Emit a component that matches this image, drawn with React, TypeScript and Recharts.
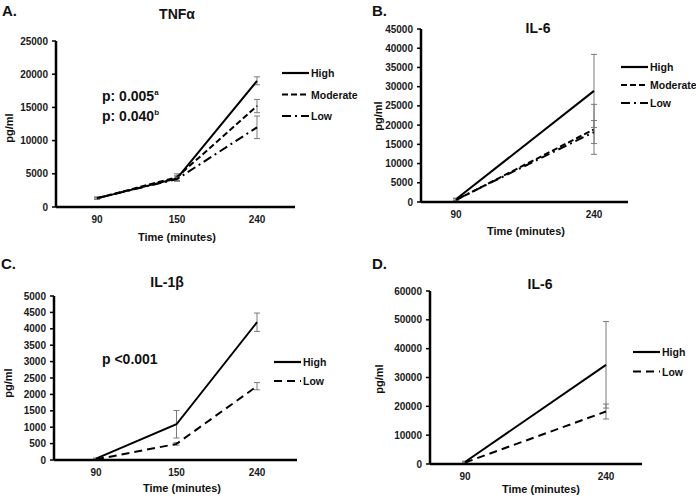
import { LineChart, Line, XAxis, YAxis, ErrorBar } from "recharts";

const FONT = '"Liberation Sans", Arial, Helvetica, sans-serif';

// A. TNFα
const timesA = ["90", "150", "240"];
const tnfHigh = [1300, 4300, 19000];
const tnfHighErr = [150, 400, 600];
const tnfModerate = [1300, 4500, 15200];
const tnfModerateErr = [150, 500, 1000];
const tnfLow = [1350, 4200, 12000];
const tnfLowErr = [150, 300, 1700];
const ticksA = [0, 5000, 10000, 15000, 20000, 25000];

// B. IL-6
const timesB = ["90", "240"];
const il6High = [700, 28900];
const il6HighErr = [300, 9500];
const il6Moderate = [500, 18900];
const il6ModerateErr = [300, 6500];
const il6Low = [600, 18200];
const il6LowErr = [300, 3000];
const ticksB = [0, 5000, 10000, 15000, 20000, 25000, 30000, 35000, 40000, 45000];

// C. IL-1β
const timesC = ["90", "150", "240"];
const il1High = [40, 1090, 4200];
const il1HighErr = [20, 420, 280];
const il1Low = [20, 490, 2250];
const il1LowErr = [10, 40, 110];
const ticksC = [0, 500, 1000, 1500, 2000, 2500, 3000, 3500, 4000, 4500, 5000];

// D. IL-6
const timesD = ["90", "240"];
const il6dHigh = [700, 34400];
const il6dHighErr = [300, 15000];
const il6dLow = [500, 18200];
const il6dLowErr = [300, 2600];
const ticksD = [0, 10000, 20000, 30000, 40000, 50000, 60000];

type Series = { key: string; name: string; dash?: string; values: number[]; errors: number[] };

const DASH_MOD = "6 3";
const DASH_LOWDOT = "9 4 2 4";
const DASH_LONG = "8 5";

const seriesA: Series[] = [
  { key: "high", name: "High", values: tnfHigh, errors: tnfHighErr },
  { key: "moderate", name: "Moderate", dash: DASH_MOD, values: tnfModerate, errors: tnfModerateErr },
  { key: "low", name: "Low", dash: DASH_LOWDOT, values: tnfLow, errors: tnfLowErr },
];
const seriesB: Series[] = [
  { key: "high", name: "High", values: il6High, errors: il6HighErr },
  { key: "moderate", name: "Moderate", dash: DASH_MOD, values: il6Moderate, errors: il6ModerateErr },
  { key: "low", name: "Low", dash: DASH_LOWDOT, values: il6Low, errors: il6LowErr },
];
const seriesC: Series[] = [
  { key: "high", name: "High", values: il1High, errors: il1HighErr },
  { key: "low", name: "Low", dash: DASH_LONG, values: il1Low, errors: il1LowErr },
];
const seriesD: Series[] = [
  { key: "high", name: "High", values: il6dHigh, errors: il6dHighErr },
  { key: "low", name: "Low", dash: DASH_LONG, values: il6dLow, errors: il6dLowErr },
];

function buildRows(times: string[], series: Series[]) {
  return times.map((t, i) => {
    const row: Record<string, string | number> = { time: t };
    series.forEach((s) => {
      row[s.key] = s.values[i];
      row[s.key + "Err"] = s.errors[i];
    });
    return row;
  });
}

const tickStyle = { fill: "#1a1a1a", fontSize: 10, fontWeight: 700, fontFamily: FONT };

type PanelProps = {
  left: number;
  top: number;
  times: string[];
  series: Series[];
  ticks: number[];
  margin: { top: number; right: number; bottom: number; left: number };
  yWidth: number;
  pad: { left: number; right: number };
};

function Panel({ left, top, times, series, ticks, margin, yWidth, pad }: PanelProps) {
  const rows = buildRows(times, series);
  return (
    <div style={{ position: "absolute", left, top }}>
      <LineChart width={348} height={249} data={rows} margin={margin}>
        <XAxis
          dataKey="time"
          type="category"
          padding={pad}
          height={30}
          tickLine={false}
          tickSize={0}
          tickMargin={9}
          axisLine={{ stroke: "#000", strokeWidth: 2.5 }}
          tick={tickStyle}
        />
        <YAxis
          width={yWidth}
          domain={[ticks[0], ticks[ticks.length - 1]]}
          ticks={ticks}
          interval={0}
          allowDataOverflow
          tickSize={4}
          tickMargin={4}
          axisLine={{ stroke: "#000", strokeWidth: 2.5 }}
          tickLine={{ stroke: "#000", strokeWidth: 1.5 }}
          tick={tickStyle}
        />
        {series.map((s) => (
          <Line
            key={s.key}
            type="linear"
            dataKey={s.key}
            name={s.name}
            stroke="#000"
            strokeWidth={2}
            strokeDasharray={s.dash}
            dot={false}
            activeDot={false}
            isAnimationActive={false}
          >
            <ErrorBar
              dataKey={s.key + "Err"}
              direction="y"
              width={3}
              stroke="#7a7a7a"
              strokeWidth={1}
              isAnimationActive={false}
            />
          </Line>
        ))}
      </LineChart>
    </div>
  );
}

function LegendBlock({ x, y, gap, series }: { x: number; y: number; gap: number; series: Series[] }) {
  return (
    <g>
      {series.map((s, i) => (
        <g key={s.key}>
          <line
            x1={x}
            x2={x + 27}
            y1={y + i * gap}
            y2={y + i * gap}
            stroke="#000"
            strokeWidth={2.2}
            strokeDasharray={s.dash}
          />
          <text x={x + 29} y={y + i * gap + 4} fontSize={10.5} fontWeight={700} fontFamily={FONT} fill="#111">
            {s.name}
          </text>
        </g>
      ))}
    </g>
  );
}

function Txt({ x, y, size, children, anchor = "start", rotate = false }: any) {
  return (
    <text
      x={x}
      y={y}
      fontSize={size}
      fontWeight={700}
      fontFamily={FONT}
      fill="#111"
      textAnchor={anchor}
      dominantBaseline={rotate ? "central" : undefined}
      transform={rotate ? `rotate(-90, ${x}, ${y})` : undefined}
    >
      {children}
    </text>
  );
}

export default function App() {
  return (
    <div
      style={{
        position: "absolute",
        left: 0,
        top: 0,
        width: 696,
        height: 498,
        background: "#fff",
        overflow: "hidden",
      }}
    >
      <Panel
        left={0}
        top={0}
        times={timesA}
        series={seriesA}
        ticks={ticksA}
        margin={{ top: 41, right: 53, bottom: 12, left: 0 }}
        yWidth={56}
        pad={{ left: 41, right: 38 }}
      />
      <Panel
        left={348}
        top={0}
        times={timesB}
        series={seriesB}
        ticks={ticksB}
        margin={{ top: 29, right: 68, bottom: 17, left: 0 }}
        yWidth={73}
        pad={{ left: 35, right: 34 }}
      />
      <Panel
        left={0}
        top={249}
        times={timesC}
        series={seriesC}
        ticks={ticksC}
        margin={{ top: 47, right: 51, bottom: 8, left: 0 }}
        yWidth={54}
        pad={{ left: 42, right: 40 }}
      />
      <Panel
        left={348}
        top={249}
        times={timesD}
        series={seriesD}
        ticks={ticksD}
        margin={{ top: 42, right: 54, bottom: 4, left: 0 }}
        yWidth={82}
        pad={{ left: 35, right: 36 }}
      />
      <svg
        width={696}
        height={498}
        style={{ position: "absolute", left: 0, top: 0, pointerEvents: "none" }}
      >
        {/* panel letters */}
        <Txt x={2} y={16} size={15}>A.</Txt>
        <Txt x={372} y={16} size={15}>B.</Txt>
        <Txt x={1} y={269} size={15}>C.</Txt>
        <Txt x={372} y={269} size={15}>D.</Txt>

        {/* titles */}
        <Txt x={177} y={19} size={14} anchor="middle">TNFα</Txt>
        <Txt x={538} y={33} size={14} anchor="middle">IL-6</Txt>
        <Txt x={167} y={287} size={14} anchor="middle">IL-1β</Txt>
        <Txt x={540} y={289} size={14} anchor="middle">IL-6</Txt>

        {/* y axis titles */}
        <Txt x={9} y={128} size={11} anchor="middle" rotate>pg/ml</Txt>
        <Txt x={378} y={116} size={11} anchor="middle" rotate>pg/ml</Txt>
        <Txt x={8} y={383} size={11} anchor="middle" rotate>pg/ml</Txt>
        <Txt x={379} y={379} size={11} anchor="middle" rotate>pg/ml</Txt>

        {/* x axis titles */}
        <Txt x={177} y={241} size={11} anchor="middle">Time (minutes)</Txt>
        <Txt x={526} y={235} size={11} anchor="middle">Time (minutes)</Txt>
        <Txt x={182} y={492} size={11} anchor="middle">Time (minutes)</Txt>
        <Txt x={541} y={493} size={11} anchor="middle">Time (minutes)</Txt>

        {/* p values */}
        <text x={102} y={101} fontSize={14} fontWeight={700} fontFamily={FONT} fill="#111">
          p: 0.005<tspan fontSize={8} dy={-6}>a</tspan>
        </text>
        <text x={102} y={121} fontSize={14} fontWeight={700} fontFamily={FONT} fill="#111">
          p: 0.040<tspan fontSize={8} dy={-6}>b</tspan>
        </text>
        <Txt x={102} y={364} size={14}>p &lt;0.001</Txt>

        {/* legends */}
        <LegendBlock x={282} y={73} gap={21.5} series={seriesA} />
        <LegendBlock x={621} y={67} gap={18} series={seriesB} />
        <LegendBlock x={274} y={362} gap={19} series={seriesC} />
        <LegendBlock x={633} y={352} gap={19.5} series={seriesD} />
      </svg>
    </div>
  );
}
